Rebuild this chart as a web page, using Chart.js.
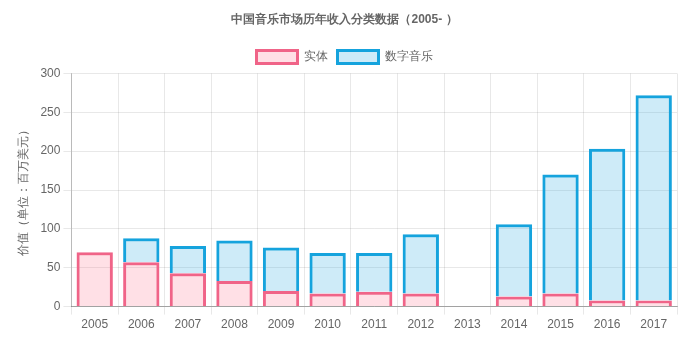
<!DOCTYPE html>
<html><head><meta charset="utf-8">
<script src="https://cdn.jsdelivr.net/npm/chart.js@4"></script>
<style>html,body{margin:0;padding:0;background:#fff}#wrap{width:697px;height:352px}</style>
</head><body><div id="wrap"><canvas id="c" width="697" height="352"></canvas></div>
<script>
const categories = ['2005','2006','2007','2008','2009','2010','2011','2012','2013','2014','2015','2016','2017'];
const physical = [70, 57, 43, 33, 20, 17, 19, 17, null, 13, 17, 8, 8];
const digital = [null, 31, 35, 52, 56, 52, 50, 76, null, 93, 153, 195, 264];
const yTicks = [0, 50, 100, 150, 200, 250, 300];

Chart.defaults.font.family = "'Liberation Sans', Arial, Helvetica, sans-serif";
Chart.defaults.font.size = 12;
Chart.defaults.color = '#666';

new Chart(document.getElementById('c'), {
  type: 'bar',
  data: {
    labels: categories,
    datasets: [
      { label: '实体', data: physical, backgroundColor: 'rgba(255,99,132,0.2)', borderColor: '#f06488', borderWidth: 3 },
      { label: '数字音乐', data: digital, backgroundColor: 'rgba(30,165,225,0.22)', borderColor: '#15a3dd', borderWidth: 3 }
    ]
  },
  options: {
    responsive: false,
    animation: false,
    barPercentage: 0.78,
    categoryPercentage: 1,
    layout: { padding: { left: 12, right: 20, top: 4, bottom: 17 } },
    plugins: {
      title: { display: true, text: '中国音乐市场历年收入分类数据（2005- ）', font: { size: 12, weight: 'bold' }, padding: { top: 8, bottom: 14 } },
      legend: { labels: { boxWidth: 41, boxHeight: 13, font: { size: 12 } } },
      tooltip: { enabled: false }
    },
    scales: {
      x: { stacked: true, grid: { color: 'rgba(0,0,0,0.09)' }, border: { color: 'rgba(0,0,0,0.3)' } },
      y: {
        stacked: true, min: 0, max: 300,
        afterBuildTicks: (s) => { s.ticks = yTicks.map(v => ({ value: v })); },
        grid: { color: 'rgba(0,0,0,0.09)' }, border: { color: 'rgba(0,0,0,0.2)' },
        title: { display: true, text: '价值（单位：百万美元）', font: { size: 12 }, padding: { top: 4, bottom: 7 } }
      }
    }
  }
});
</script></body></html>
